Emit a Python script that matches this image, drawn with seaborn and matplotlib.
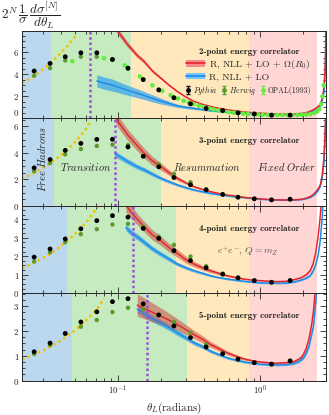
import numpy as np
import matplotlib
matplotlib.use("Agg")
import matplotlib.pyplot as plt
from matplotlib.lines import Line2D
from matplotlib.patches import Patch
from matplotlib.ticker import MultipleLocator, LogLocator, NullFormatter
import seaborn as sns

# ---------------- data ----------------
theta_min, theta_max = 0.0213, 2.88
orange_end, pink_end = 0.83, 2.49

# Monte Carlo bin centres (same for all N)
mc_theta = [0.0259, 0.0335, 0.0428, 0.0551, 0.0713, 0.0918, 0.118, 0.151, 0.194,
            0.248, 0.324, 0.417, 0.545, 0.698, 0.908, 1.20, 1.62]

pythia_2 = [4.29, 4.98, 5.58, 5.94, 5.94, 5.34, 4.55, 3.52, 2.58, 1.87, 1.32, 0.90, 0.72, 0.50, 0.41, 0.30, 0.30]
herwig_2 = [3.87, 4.56, 5.25, 5.58, 5.58, 5.30, 4.50, 3.50, 2.60, 1.90, 1.35, 0.92, 0.73, 0.52, 0.42, 0.31, 0.31]
pythia_3 = [2.87, 3.50, 4.19, 4.72, 5.02, 5.03, 4.45, 3.74, 2.95, 2.14, 1.59, 1.21, 0.86, 0.65, 0.53, 0.45, 0.50]
herwig_3 = [2.62, 3.23, 3.89, 4.29, 4.52, 4.62, 4.60, 3.78, 3.14, 2.42, 1.79, 1.25, 0.88, 0.66, 0.54, 0.46, 0.50]
pythia_4 = [1.95, 2.39, 2.93, 3.48, 3.92, 4.19, 4.11, 3.50, 2.96, 2.30, 1.76, 1.37, 1.03, 0.83, 0.68, 0.59, 0.68]
herwig_4 = [1.71, 2.21, 2.76, 3.19, 3.46, 3.71, 3.75, 3.60, 3.06, 2.61, 1.98, 1.46, 1.05, 0.84, 0.69, 0.60, 0.69]
pythia_5 = [1.16, 1.51, 1.90, 2.36, 2.77, 3.18, 3.30, 3.09, 2.64, 2.20, 1.73, 1.35, 1.08, 0.86, 0.72, 0.66, 0.79]
herwig_5 = [1.07, 1.43, 1.88, 2.17, 2.44, 2.76, 2.93, 2.87, 2.66, 2.36, 1.93, 1.46, 1.10, 0.87, 0.73, 0.67, 0.80]

# OPAL (1993) EEC
opal_theta = [0.048, 0.080, 0.112, 0.143, 0.175, 0.205, 0.235, 0.265, 0.29, 0.315, 0.34, 0.37, 0.40,
              0.435, 0.47, 0.51, 0.55, 0.60, 0.65, 0.70, 0.76, 0.82, 0.89, 0.96, 1.04, 1.13, 1.22,
              1.32, 1.43, 1.55, 1.68, 1.82, 1.96, 2.10, 2.25, 2.40, 2.50, 2.60, 2.68, 2.74, 2.79]
opal_val = [5.19, 5.46, 4.80, 3.80, 3.00, 2.50, 2.10, 1.80, 1.60, 1.45, 1.30, 1.15, 1.03,
            0.92, 0.82, 0.73, 0.66, 0.58, 0.52, 0.48, 0.44, 0.41, 0.38, 0.36, 0.34, 0.33, 0.32,
            0.31, 0.31, 0.31, 0.31, 0.32, 0.33, 0.35, 0.40, 0.50, 0.62, 0.85, 1.30, 2.00, 3.00]

# resummed curves: R, NLL+LO+Omega(R0) (red) and R, NLL+LO (blue)
theta_2 = [0.0713, 0.08, 0.09, 0.1, 0.117, 0.137, 0.153, 0.175, 0.2, 0.23, 0.261, 0.3, 0.341, 0.4, 0.446,
           0.5, 0.584, 0.68, 0.763, 0.88, 1.0, 1.15, 1.3, 1.5, 1.71, 1.95, 2.1, 2.24, 2.35, 2.45,
           2.55, 2.64, 2.72, 2.8, 2.86, 2.9]
red_2 = [12.0, 10.5, 9.0, 7.9, 6.7, 5.7, 5.16, 4.3, 3.66, 3.0, 2.46, 1.95, 1.56, 1.25, 1.1,
         0.95, 0.8, 0.68, 0.6, 0.53, 0.48, 0.44, 0.41, 0.4, 0.41, 0.46, 0.52, 0.66, 0.78, 0.92,
         1.1, 1.3, 1.8, 2.8, 5.0, 9.0]
red_err_2 = [0.5, 0.45, 0.4, 0.3, 0.25, 0.2, 0.18, 0.15, 0.12, 0.1, 0.08, 0.07, 0.06, 0.05, 0.05,
             0.04, 0.04, 0.03, 0.03, 0.03, 0.03, 0.03, 0.03, 0.03, 0.03, 0.03, 0.03, 0.04, 0.05, 0.06,
             0.07, 0.08, 0.1, 0.15, 0.3, 0.5]
blue_2 = [3.4, 3.2, 3.05, 2.85, 2.55, 2.28, 2.08, 1.82, 1.58, 1.35, 1.15, 1.02, 0.92, 0.8, 0.71,
          0.65, 0.57, 0.51, 0.48, 0.43, 0.41, 0.38, 0.36, 0.35, 0.35, 0.4, 0.45, 0.55, 0.65, 0.78,
          0.95, 1.15, 1.6, 2.4, 4.5, 9.0]
blue_err_2 = [0.55, 0.55, 0.55, 0.5, 0.45, 0.4, 0.36, 0.32, 0.27, 0.2, 0.15, 0.12, 0.1, 0.08, 0.07,
              0.06, 0.05, 0.05, 0.04, 0.04, 0.04, 0.04, 0.04, 0.04, 0.04, 0.04, 0.04, 0.05, 0.05, 0.06,
              0.07, 0.08, 0.1, 0.15, 0.3, 0.5]

theta_3 = [0.095, 0.1, 0.117, 0.137, 0.153, 0.175, 0.2, 0.23, 0.261, 0.3, 0.341, 0.4, 0.446, 0.5,
           0.584, 0.68, 0.763, 0.88, 1.0, 1.15, 1.3, 1.5, 1.71, 1.95, 2.1, 2.24, 2.35, 2.45, 2.55,
           2.64, 2.72, 2.8, 2.86, 2.9]
red_3 = [6.9, 6.4, 5.38, 4.55, 3.98, 3.4, 2.98, 2.5, 2.09, 1.75, 1.46, 1.22, 1.08, 0.96,
         0.83, 0.72, 0.65, 0.58, 0.53, 0.48, 0.45, 0.44, 0.45, 0.5, 0.58, 0.7, 0.85, 1.05, 1.3,
         1.6, 2.3, 3.7, 6.0, 9.0]
red_err_3 = [0.45, 0.45, 0.42, 0.4, 0.38, 0.33, 0.28, 0.2, 0.15, 0.1, 0.08, 0.06, 0.05, 0.05,
             0.04, 0.04, 0.03, 0.03, 0.03, 0.03, 0.03, 0.03, 0.03, 0.03, 0.04, 0.05, 0.06, 0.07, 0.08,
             0.1, 0.12, 0.2, 0.3, 0.5]
blue_3 = [3.95, 3.8, 3.36, 2.95, 2.73, 2.4, 2.09, 1.82, 1.59, 1.38, 1.21, 1.05, 0.95, 0.86,
          0.76, 0.68, 0.63, 0.56, 0.5, 0.47, 0.45, 0.44, 0.45, 0.48, 0.55, 0.65, 0.78, 0.95, 1.2,
          1.5, 2.1, 3.4, 5.5, 9.0]
blue_err_3 = [0.22, 0.22, 0.2, 0.18, 0.17, 0.15, 0.13, 0.12, 0.1, 0.09, 0.08, 0.07, 0.06, 0.05,
              0.05, 0.04, 0.04, 0.04, 0.04, 0.04, 0.04, 0.04, 0.04, 0.04, 0.04, 0.05, 0.06, 0.07, 0.08,
              0.1, 0.12, 0.2, 0.3, 0.5]

theta_4 = [0.114, 0.125, 0.137, 0.153, 0.175, 0.2, 0.23, 0.261, 0.3, 0.341, 0.4, 0.446, 0.5, 0.584,
           0.68, 0.763, 0.88, 1.0, 1.15, 1.3, 1.5, 1.71, 1.95, 2.1, 2.24, 2.35, 2.45, 2.55, 2.63,
           2.72, 2.8]
red_4 = [4.75, 4.35, 4.0, 3.6, 3.15, 2.84, 2.45, 2.16, 1.82, 1.58, 1.35, 1.22, 1.1, 0.95,
         0.84, 0.77, 0.71, 0.68, 0.65, 0.63, 0.64, 0.72, 0.85, 1.0, 1.22, 1.6, 2.2, 3.1, 4.1,
         5.5, 7.0]
red_err_4 = [0.36, 0.34, 0.3, 0.28, 0.27, 0.25, 0.23, 0.21, 0.18, 0.15, 0.12, 0.1, 0.08, 0.06,
             0.05, 0.04, 0.03, 0.03, 0.03, 0.03, 0.03, 0.03, 0.03, 0.04, 0.05, 0.06, 0.08, 0.1, 0.12,
             0.15, 0.2]
blue_4 = [3.55, 3.25, 3.05, 2.76, 2.4, 2.12, 1.84, 1.58, 1.38, 1.22, 1.06, 0.95, 0.86, 0.77,
          0.7, 0.65, 0.6, 0.56, 0.55, 0.54, 0.55, 0.6, 0.72, 0.82, 0.95, 1.2, 1.55, 2.1, 2.8,
          4.1, 6.0]
blue_err_4 = [0.18, 0.17, 0.16, 0.15, 0.14, 0.13, 0.12, 0.1, 0.09, 0.08, 0.07, 0.06, 0.05, 0.05,
              0.05, 0.04, 0.04, 0.04, 0.04, 0.04, 0.04, 0.04, 0.05, 0.05, 0.06, 0.07, 0.08, 0.1, 0.12,
              0.15, 0.2]

theta_5 = [0.137, 0.145, 0.153, 0.175, 0.2, 0.23, 0.261, 0.3, 0.341, 0.4, 0.446, 0.5, 0.584, 0.68,
           0.763, 0.88, 1.0, 1.15, 1.3, 1.5, 1.71, 1.85, 1.95, 2.01, 2.1, 2.2, 2.3, 2.36, 2.42, 2.5]
red_5 = [3.04, 2.98, 2.92, 2.75, 2.6, 2.43, 2.26, 2.06, 1.86, 1.64, 1.46, 1.32, 1.12, 0.98,
         0.88, 0.8, 0.75, 0.72, 0.7, 0.72, 0.76, 0.85, 0.95, 1.06, 1.3, 1.7, 2.3, 2.8, 3.5, 4.5]
red_err_5 = [0.45, 0.44, 0.42, 0.38, 0.33, 0.28, 0.24, 0.2, 0.17, 0.14, 0.12, 0.1, 0.08, 0.06,
             0.05, 0.04, 0.04, 0.04, 0.04, 0.04, 0.04, 0.04, 0.05, 0.05, 0.06, 0.07, 0.08, 0.1, 0.12, 0.15]
blue_5 = [2.87, 2.8, 2.7, 2.5, 2.33, 2.13, 1.93, 1.73, 1.53, 1.35, 1.19, 1.07, 0.92, 0.82,
          0.76, 0.7, 0.66, 0.64, 0.63, 0.64, 0.68, 0.76, 0.85, 0.92, 1.1, 1.4, 1.9, 2.2, 2.8, 3.8]
blue_err_5 = [0.15, 0.15, 0.15, 0.14, 0.13, 0.12, 0.11, 0.1, 0.09, 0.08, 0.07, 0.06, 0.05, 0.05,
              0.05, 0.04, 0.04, 0.04, 0.04, 0.04, 0.04, 0.05, 0.05, 0.06, 0.07, 0.08, 0.1, 0.12, 0.14, 0.18]

# free-hadron scaling (yellow dotted)
free_theta_2 = [0.0213, 0.026, 0.031, 0.037, 0.044, 0.0517]
free_val_2 = [3.18, 3.85, 4.6, 5.5, 6.5, 7.6]
free_theta_3 = [0.0213, 0.026, 0.031, 0.037, 0.044, 0.052, 0.06, 0.0647]
free_val_3 = [2.05, 2.5, 2.98, 3.55, 4.2, 5.0, 5.8, 6.4]
free_theta_4 = [0.0213, 0.026, 0.031, 0.037, 0.044, 0.052, 0.062, 0.0721]
free_val_4 = [1.35, 1.65, 1.97, 2.35, 2.8, 3.3, 3.95, 4.65]
free_theta_5 = [0.0213, 0.026, 0.031, 0.037, 0.044, 0.052, 0.062, 0.072, 0.08]
free_val_5 = [0.86, 1.05, 1.25, 1.5, 1.78, 2.1, 2.5, 2.9, 3.3]

n_points = [2, 3, 4, 5]
y_max = [7.9, 6.6, 4.72, 3.52]
purple_theta = [0.0637, 0.095, 0.127, 0.16]
blue_region_end = [0.034, 0.0358, 0.0438, 0.0474]
green_region_end = [0.124, 0.2, 0.257, 0.304]

pythia = [pythia_2, pythia_3, pythia_4, pythia_5]
herwig = [herwig_2, herwig_3, herwig_4, herwig_5]
curve_theta = [theta_2, theta_3, theta_4, theta_5]
red = [red_2, red_3, red_4, red_5]
red_err = [red_err_2, red_err_3, red_err_4, red_err_5]
blue = [blue_2, blue_3, blue_4, blue_5]
blue_err = [blue_err_2, blue_err_3, blue_err_4, blue_err_5]
free_theta = [free_theta_2, free_theta_3, free_theta_4, free_theta_5]
free_val = [free_val_2, free_val_3, free_val_4, free_val_5]

# ---------------- style ----------------
sns.set_style("ticks", {"xtick.direction": "in", "ytick.direction": "in"})
plt.rcParams["font.family"] = ["cmr10", "DejaVu Serif"]
plt.rcParams["mathtext.fontset"] = "cm"
plt.rcParams["axes.formatter.use_mathtext"] = True
plt.rcParams["axes.linewidth"] = 0.7

region_colors = ["#bcd8ee", "#c6ebc0", "#fee8bc", "#ffd6d4"]
red_line, red_band = "#e8202a", "#cc4a40"
blue_line, blue_band = "#1a8ae6", "#3aa6f0"
c_pythia, c_herwig, c_opal = "black", "#5c9a2e", "#62ee3e"

fig, axes = plt.subplots(4, 1, figsize=(3.29, 4.15), dpi=100, sharex=True,
                         gridspec_kw=dict(hspace=0))
fig.subplots_adjust(left=0.067, right=0.99, top=0.925, bottom=0.083)

for i, ax in enumerate(axes):
    ax.set_xscale("log")
    ax.set_xlim(theta_min, theta_max)
    ax.set_ylim(0, y_max[i])

    edges = [theta_min, blue_region_end[i], green_region_end[i], orange_end, pink_end]
    for lo, hi, c in zip(edges[:-1], edges[1:], region_colors):
        ax.axvspan(lo, hi, color=c, lw=0, zorder=0)

    th = np.array(curve_theta[i])
    r, re_ = np.array(red[i]), np.array(red_err[i])
    b, be = np.array(blue[i]), np.array(blue_err[i])
    ax.fill_between(th, b - be, b + be, color=blue_band, alpha=0.75, lw=0, zorder=2)
    ax.fill_between(th, r - re_, r + re_, color=red_band, alpha=0.55, lw=0, zorder=3)
    sns.lineplot(x=th, y=b, ax=ax, color=blue_line, lw=1.0, sort=False,
                 estimator=None, legend=False, zorder=4)
    sns.lineplot(x=th, y=r, ax=ax, color=red_line, lw=1.0, sort=False,
                 estimator=None, legend=False, zorder=5)

    sns.lineplot(x=free_theta[i], y=free_val[i], ax=ax, color="#f2c200", lw=1.8,
                 linestyle=(0, (1, 1.3)), sort=False, estimator=None, legend=False, zorder=6)
    ax.axvline(purple_theta[i], color="#9b4fd9", lw=1.8, linestyle=(0, (1, 1.1)), zorder=9)

    if i == 0:
        sns.scatterplot(x=opal_theta, y=opal_val, ax=ax, color=c_opal, s=11,
                        edgecolor="none", zorder=7, legend=False)
    sns.scatterplot(x=mc_theta, y=herwig[i], ax=ax, color=c_herwig, s=10,
                    edgecolor="none", zorder=7, legend=False)
    sns.scatterplot(x=mc_theta, y=pythia[i], ax=ax, color=c_pythia, s=12,
                    edgecolor="none", zorder=8, legend=False)

    ax.set_ylabel("")
    ax.yaxis.set_major_locator(MultipleLocator(2 if i < 2 else 1))
    ax.yaxis.set_minor_locator(MultipleLocator(0.5 if i < 2 else 0.25))
    ax.xaxis.set_major_locator(LogLocator(base=10))
    ax.xaxis.set_minor_locator(LogLocator(base=10, subs=np.arange(2, 10)))
    ax.xaxis.set_minor_formatter(NullFormatter())
    ax.tick_params(which="both", direction="in", top=True, right=True, labelsize=6.4,
                   width=0.6, pad=2)
    ax.tick_params(which="major", length=4.5)
    ax.tick_params(which="minor", length=2.5)
    for s in ax.spines.values():
        s.set_zorder(20)

    ax.text(0.747, 0.74 if i else 0.76, f"{n_points[i]}-point energy correlator",
            transform=ax.transAxes, ha="center", va="center", fontsize=6.5,
            family=["cmb10", "DejaVu Serif"], zorder=15)

# legend for panel 1
leg_handles = [(Patch(facecolor="#f28c8c", edgecolor="none"), Line2D([], [], color=red_line, lw=1.2)),
               (Patch(facecolor="#7cc4f5", edgecolor="none"), Line2D([], [], color=blue_line, lw=1.2))]
leg1 = axes[0].legend(leg_handles, [r"R, NLL + LO + $\Omega(R_0)$", "R, NLL + LO"],
                      loc="center", bbox_to_anchor=(0.745, 0.56), frameon=False, fontsize=7,
                      handlelength=1.9, handletextpad=0.4, labelspacing=0.2, borderpad=0)
axes[0].add_artist(leg1)
eb = []
for c in [c_pythia, c_herwig, c_opal]:
    eb.append(axes[0].errorbar([np.nan], [np.nan], yerr=[0.1], fmt="o", color=c, ms=2.5,
                               elinewidth=0.8, capsize=1.5))
axes[0].legend(eb, [r"$\mathit{Pythia}$", r"$\mathit{Herwig}$", "OPAL(1993)"],
               loc="center", bbox_to_anchor=(0.745, 0.325), frameon=False, fontsize=5.6,
               ncol=3, handlelength=0.7, handletextpad=0.3, columnspacing=0.5, borderpad=0)

# region labels
axes[1].text(0.066, 0.54, r"$\mathit{Free\ Hadrons}$", transform=axes[1].transAxes, rotation=90,
             ha="center", va="center", fontsize=7.5, zorder=15)
axes[1].text(0.21, 0.44, r"$\mathit{Transition}$", transform=axes[1].transAxes,
             ha="center", va="center", fontsize=7.5, zorder=15)
axes[1].text(0.609, 0.44, r"$\mathit{Resummation}$", transform=axes[1].transAxes,
             ha="center", va="center", fontsize=7.5, zorder=15)
axes[1].text(0.872, 0.44, r"$\mathit{Fixed\ Order}$", transform=axes[1].transAxes,
             ha="center", va="center", fontsize=7.5, zorder=15)
axes[2].text(0.743, 0.485, r"$e^{+}e^{-},\, Q = m_Z$", transform=axes[2].transAxes,
             ha="center", va="center", fontsize=7, color="#555555", zorder=15)

axes[3].set_xlabel(r"$\theta_L$(radians)", fontsize=8, labelpad=3)
fig.text(0.004, 0.962, r"$2^N\,\dfrac{1}{\sigma}\,\dfrac{d\sigma^{[N]}}{d\theta_L}$",
         ha="left", va="center", fontsize=9.5)

# lift the "0" of the top panel a little, as in the original
fig.canvas.draw()
for t in axes[0].yaxis.get_major_ticks():
    if abs(t.get_loc()) < 1e-9:
        t.label1.set_verticalalignment("bottom")

fig.savefig("out.png", dpi=100)
